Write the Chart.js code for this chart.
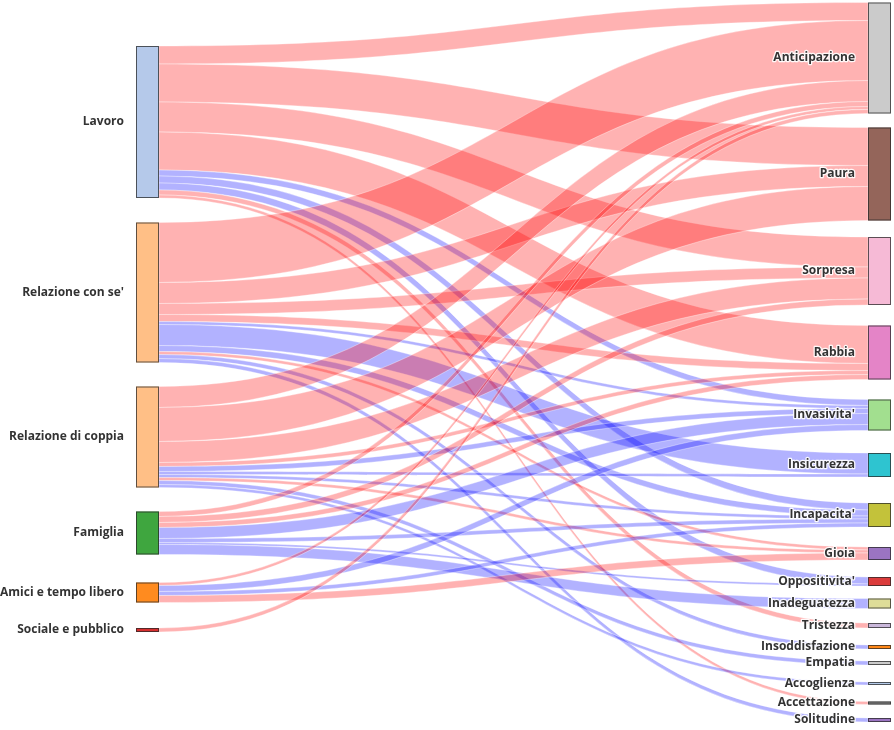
<html><head><meta charset="utf-8">
<script src="https://cdn.jsdelivr.net/npm/chart.js@4.4.0/dist/chart.umd.min.js"></script>
<style>
 html, body { margin:0; padding:0; background:#fff; }
</style>
</head>
<body>
<canvas id="myChart" width="894" height="730"></canvas>
<script>
// sources (left column) and targets (right column)
var sources = ['Lavoro', "Relazione con se'", 'Relazione di coppia', 'Famiglia', 'Amici e tempo libero', 'Sociale e pubblico'];
var targets = ['Anticipazione', 'Paura', 'Sorpresa', 'Rabbia', "Invasivita'", 'Insicurezza', "Incapacita'", 'Gioia',
               "Oppositivita'", 'Inadeguatezza', 'Tristezza', 'Insoddisfazione', 'Empatia', 'Accoglienza', 'Accettazione', 'Solitudine'];
// emotions get red flows, the rest blue
var emotions = ['Anticipazione', 'Paura', 'Sorpresa', 'Rabbia', 'Gioia', 'Tristezza', 'Accettazione'];

// flow from each source to each target (same order as targets)
var flowLavoro      = [18, 38, 30, 38, 6, 0, 7, 0, 7, 0, 5, 0, 0, 0, 3, 0];
var flowRelSe       = [60, 21, 11, 7, 3, 21, 6, 3, 0, 0, 0, 4, 0, 0, 0, 4];
var flowRelCoppia   = [21, 34, 21, 4, 5, 3, 3, 3, 0, 0, 0, 0, 4, 3, 0, 0];
var flowFamiglia    = [5, 0, 6, 5, 11, 0, 4, 0, 2, 10, 0, 0, 0, 0, 0, 0];
var flowAmici       = [3, 0, 0, 0, 6, 0, 4, 7, 0, 0, 0, 0, 0, 0, 0, 0];
var flowSociale     = [4, 0, 0, 0, 0, 0, 0, 0, 0, 0, 0, 0, 0, 0, 0, 0];
var flows = [flowLavoro, flowRelSe, flowRelCoppia, flowFamiglia, flowAmici, flowSociale];

// node arrangement (centre of each node on the value axis, like plotly node.y)
var sourceCentre = [122, 292.5, 437, 533, 592.5, 630];
var targetCentre = [58, 174, 271, 352.5, 415, 465, 515, 553.5, 581.5, 603.5, 625.5, 647, 663, 683.5, 703, 720];

var sourceColors = ['#b5c9ea', '#ffbf86', '#ffbf86', '#3fa63f', '#ff8b1f', '#d62f2f'];
var targetColors = ['#cbcbcb', '#94655a', '#f6bad6', '#e484c7', '#a2df8f', '#2ec4d0', '#c3c23a', '#9b74c2',
                    '#db3b3b', '#dedd98', '#c9b7da', '#ff8717', '#cbcbcb', '#b4cae9', '#858585', '#9b74c2'];
var redFlow = 'rgba(255,0,0,0.3)';
var blueFlow = 'rgba(0,0,255,0.3)';

function sum(a) { return a.reduce(function (s, v) { return s + v; }, 0); }

var sankeyPlugin = {
  id: 'sankey',
  afterDraw: function (chart) {
    var ctx = chart.ctx;
    var xs = chart.scales.x, ys = chart.scales.y;
    var thick = 23;
    var xL0 = xs.getPixelForValue(0), xL1 = xL0 + thick;
    var xR1 = xs.getPixelForValue(1), xR0 = xR1 - thick;

    var srcTot = flows.map(sum);
    var tgtTot = targets.map(function (t, j) { return sum(flows.map(function (f) { return f[j]; })); });
    var srcTop = srcTot.map(function (v, i) { return sourceCentre[i] - v / 2; });
    var tgtTop = tgtTot.map(function (v, j) { return targetCentre[j] - v / 2; });

    // offsets inside each node
    var srcOff = srcTop.slice(), tgtOff = tgtTop.slice();
    var links = [];
    flows.forEach(function (f, i) {
      f.forEach(function (v, j) {
        if (!v) return;
        links.push({ s: i, t: j, v: v, sy: srcOff[i] });
        srcOff[i] += v;
      });
    });
    for (var j = 0; j < targets.length; j++) {
      links.forEach(function (l) {
        if (l.t === j) { l.ty = tgtOff[j]; tgtOff[j] += l.v; }
      });
    }

    ctx.save();
    var xm = (xL1 + xR0) / 2;
    links.forEach(function (l) {
      var a0 = ys.getPixelForValue(l.sy), a1 = ys.getPixelForValue(l.sy + l.v);
      var b0 = ys.getPixelForValue(l.ty), b1 = ys.getPixelForValue(l.ty + l.v);
      ctx.beginPath();
      ctx.moveTo(xL1, a0);
      ctx.bezierCurveTo(xm, a0, xm, b0, xR0, b0);
      ctx.lineTo(xR0, b1);
      ctx.bezierCurveTo(xm, b1, xm, a1, xL1, a1);
      ctx.closePath();
      ctx.fillStyle = emotions.indexOf(targets[l.t]) >= 0 ? redFlow : blueFlow;
      ctx.fill();
      ctx.strokeStyle = 'rgba(255,255,255,0.7)';
      ctx.lineWidth = 0.5;
      ctx.stroke();
    });

    function node(x0, top, v, color) {
      var y0 = ys.getPixelForValue(top), y1 = ys.getPixelForValue(top + v);
      ctx.fillStyle = color;
      ctx.fillRect(x0, y0, thick, y1 - y0);
      ctx.strokeStyle = 'rgba(40,40,40,0.75)';
      ctx.lineWidth = 1;
      ctx.strokeRect(x0 + 0.5, y0 + 0.5, thick - 1, Math.max(y1 - y0 - 1, 1));
    }
    sources.forEach(function (n, i) { node(xL0, srcTop[i], srcTot[i], sourceColors[i]); });
    targets.forEach(function (n, j) { node(xR0, tgtTop[j], tgtTot[j], targetColors[j]); });

    ctx.font = 'bold 12px "Open Sans"';
    ctx.textAlign = 'right';
    ctx.textBaseline = 'middle';
    ctx.lineJoin = 'round';
    function label(text, x, y) {
      ctx.strokeStyle = 'rgba(255,255,255,0.9)';
      ctx.lineWidth = 2.5;
      ctx.strokeText(text, x, y);
      ctx.fillStyle = '#333';
      ctx.fillText(text, x, y);
    }
    sources.forEach(function (n, i) { label(n, xL0 - 12, ys.getPixelForValue(sourceCentre[i])); });
    targets.forEach(function (n, j) { label(n, xR0 - 13, ys.getPixelForValue(targetCentre[j])); });
    ctx.restore();
  }
};

var chart = new Chart(document.getElementById('myChart'), {
  type: 'scatter',
  data: { datasets: [] },
  options: {
    responsive: false,
    animation: false,
    layout: { padding: { left: 136, right: 3, top: 0, bottom: 0 } },
    scales: {
      x: { type: 'linear', min: 0, max: 1, display: false },
      y: { type: 'linear', min: 0, max: 730, reverse: true, display: false }
    },
    plugins: { legend: { display: false }, tooltip: { enabled: false } }
  },
  plugins: [sankeyPlugin]
});
</script>
</body></html>
